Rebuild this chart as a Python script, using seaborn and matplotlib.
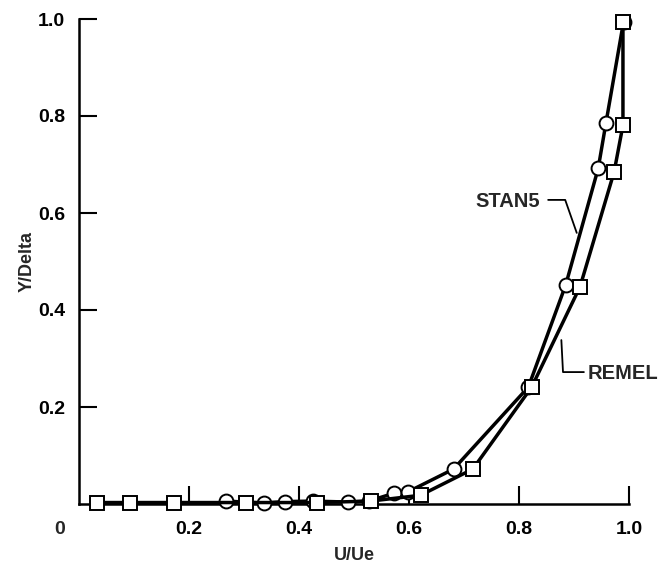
"""Profil de vitesse : STAN5 vs REMEL."""

import matplotlib
matplotlib.use("Agg")
import matplotlib.pyplot as plt
import pandas as pd
import seaborn as sns

# STAN5 (cercles)
stan5_u = [0.267, 0.336, 0.375, 0.426, 0.489, 0.527, 0.572, 0.598,
           0.681, 0.817, 0.885, 0.944, 0.958, 0.990]
stan5_y = [0.006, 0.002, 0.005, 0.006, 0.004, 0.006, 0.022, 0.025,
           0.072, 0.241, 0.452, 0.692, 0.785, 0.994]

# REMEL (carrés)
remel_u = [0.033, 0.093, 0.173, 0.304, 0.433, 0.530, 0.621, 0.716,
           0.823, 0.911, 0.973, 0.989, 0.989]
remel_y = [0.003, 0.003, 0.003, 0.003, 0.003, 0.006, 0.018, 0.072,
           0.241, 0.448, 0.685, 0.781, 0.994]

tick_vals = [0.2, 0.4, 0.6, 0.8, 1.0]
tick_labels = ["0.2", "0.4", "0.6", "0.8", "1.0"]

sns.set_style("ticks")
plt.rcParams["font.family"] = ["Liberation Sans", "DejaVu Sans"]
plt.rcParams["font.weight"] = "bold"

fig = plt.figure(figsize=(6.61, 5.69), dpi=100)
ax = fig.add_axes([79 / 661, 65 / 569, 550 / 661, 485 / 569])

stan5 = pd.DataFrame({"u": stan5_u, "y": stan5_y})
remel = pd.DataFrame({"u": remel_u, "y": remel_y})

line_kw = dict(color="black", linewidth=2.5, markersize=10,
               markerfacecolor="white", markeredgecolor="black",
               markeredgewidth=1.4, estimator=None, sort=False,
               clip_on=False, ax=ax)
sns.lineplot(data=stan5, x="u", y="y", marker="o", zorder=3, **line_kw)
sns.lineplot(data=remel, x="u", y="y", marker="s", zorder=4, **line_kw)

ax.set_xlim(0, 1.0)
ax.set_ylim(0, 1.0)
ax.set_xticks(tick_vals)
ax.set_xticklabels(tick_labels)
ax.set_yticks(tick_vals)
ax.set_yticklabels(tick_labels)
ax.tick_params(axis="both", direction="in", width=1.5, length=13,
               labelsize=14, colors="black")
ax.tick_params(axis="x", pad=12)
ax.tick_params(axis="y", pad=10)
for lab in ax.get_xticklabels() + ax.get_yticklabels():
    lab.set_fontweight("bold")

sns.despine(ax=ax)
for side in ("left", "bottom"):
    ax.spines[side].set_linewidth(1.8)
    ax.spines[side].set_color("black")

ax.text(-0.035, -0.052, "0", transform=ax.transAxes, ha="center",
        va="center", fontsize=14, fontweight="bold")
ax.set_xlabel("U/Ue", fontsize=13, fontweight="bold", labelpad=7)
ax.set_ylabel("Y/Delta", fontsize=13, fontweight="bold", labelpad=2)

# étiquettes des courbes avec traits de rappel
ax.text(0.838, 0.623, "STAN5", ha="right", va="center",
        fontsize=14.5, fontweight="bold")
ax.plot([0.853, 0.884, 0.905], [0.627, 0.627, 0.559],
        color="black", linewidth=1.3)
ax.text(0.925, 0.270, "REMEL", ha="left", va="center",
        fontsize=14.5, fontweight="bold")
ax.plot([0.877, 0.880, 0.918], [0.338, 0.272, 0.272],
        color="black", linewidth=1.3)

if ax.get_legend() is not None:
    ax.get_legend().remove()

fig.savefig("out.png", dpi=100)
